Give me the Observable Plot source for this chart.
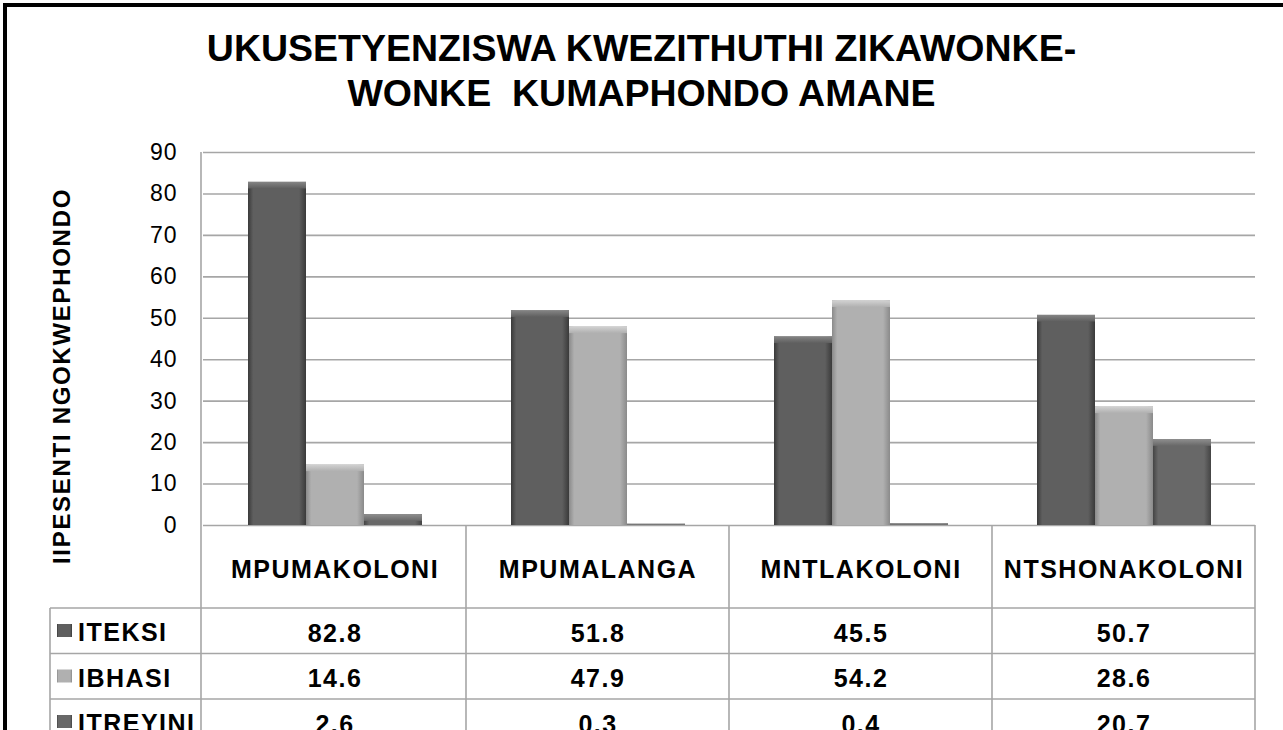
<!DOCTYPE html>
<html><head><meta charset="utf-8">
<script src="https://cdn.jsdelivr.net/npm/d3@7"></script>
<script src="https://cdn.jsdelivr.net/npm/@observablehq/plot@0.6"></script>
<style>
 html,body{margin:0;padding:0;background:#fff;overflow:hidden;}
 body{width:1283px;height:730px;position:relative;font-family:"Liberation Sans",Arial,sans-serif;}
 #frame{position:absolute;left:3px;top:3px;width:1300px;height:800px;border-left:4px solid #000;border-top:4px solid #000;box-sizing:border-box;pointer-events:none;z-index:2}
 #title{position:absolute;left:0;top:0;width:1283px;height:130px;padding-top:26px;box-sizing:border-box;text-align:center;font-weight:bold;font-size:37.5px;line-height:45px;color:#000;white-space:pre;}
 #chart{position:absolute;left:0;top:130px}
</style></head><body>
<div id="title"></div><div id="chart"></div><div id="frame"></div>
<script>
const categories = ["MPUMAKOLONI", "MPUMALANGA", "MNTLAKOLONI", "NTSHONAKOLONI"];
const seriesNames = ["ITEKSI", "IBHASI", "ITREYINI"];
const iteksi = [82.8, 51.8, 45.5, 50.7];
const ibhasi = [14.6, 47.9, 54.2, 28.6];
const itreyini = [2.6, 0.3, 0.4, 20.7];
const yTicks = [0, 10, 20, 30, 40, 50, 60, 70, 80, 90];
const titleLines = ["UKUSETYENZISWA KWEZITHUTHI ZIKAWONKE-", "WONKE  KUMAPHONDO AMANE"];
const yLabel = "IIPESENTI NGOKWEPHONDO";

const seriesValues = [iteksi, ibhasi, itreyini];
const baseColors = ["#5f5f5f", "#b0b0b0", "#686868"];
const edgeColors = ["#3a3a3a", "#8a8a8a", "#444444"];
const bevelColors = ["#858585", "#d2d2d2", "#8e8e8e"];

const rows = seriesNames.map((s, j) => categories.map((c, i) => ({category: c, series: s, value: seriesValues[j][i]})));

document.getElementById("title").textContent = titleLines.join("\n");

const W = 1283, H = 600, mL = 201, mR = 27, mT = 22, mB = 205;
const headerH = 83, rowH = 45.5, textOff = 33;
const FONT = '"Liberation Sans", Arial, sans-serif';

const marks = [Plot.gridY(yTicks, {stroke: "#a6a6a6", strokeOpacity: 1, strokeWidth: 1.6})];
rows.forEach((data, j) => {
  marks.push(Plot.barY(data, {fx: "category", x: "series", y: "value", fill: `url(#bar${j})`}));
  marks.push(Plot.barY(data, {fx: "category", x: "series", y1: "value", y2: d => Math.max(0, d.value - 1.6), fill: `url(#bev${j})`}));
});
marks.push(Plot.text(categories, {fx: d => d, text: d => d, frameAnchor: "bottom", lineAnchor: "bottom", dy: 52, fontSize: 25, fontWeight: "bold"}));
rows.forEach((data, j) => marks.push(Plot.text(data, {
  fx: "category", text: d => d.value.toFixed(1), frameAnchor: "bottom", lineAnchor: "bottom",
  dy: headerH + rowH * j + textOff, fontSize: 25, fontWeight: "bold"
})));

const chart = Plot.plot({
  width: W, height: H, marginLeft: mL, marginRight: mR, marginTop: mT, marginBottom: mB,
  style: {fontFamily: FONT, fontSize: "23px", color: "#000", background: "#fff"},
  fx: {domain: categories, padding: 0, axis: null, label: null},
  x: {domain: seriesNames, paddingInner: 0, paddingOuter: 0.735, axis: null},
  y: {domain: [0, 90], ticks: yTicks, tickSize: 0, tickPadding: 26, label: null},
  marks
});
document.getElementById("chart").appendChild(chart);

const svg = d3.select(chart);
svg.selectAll('g[aria-label="text"] text').attr("letter-spacing", "1.5px");
svg.selectAll('g[aria-label="y-axis tick label"]').attr("font-size", 23).attr("fill", "#000");
svg.selectAll('g[aria-label="y-axis tick label"] text').attr("letter-spacing", "1px");

const defs = svg.insert("defs", ":first-child");
seriesNames.forEach((s, j) => {
  const g = defs.append("linearGradient").attr("id", `bar${j}`).attr("x1", 0).attr("x2", 1).attr("y1", 0).attr("y2", 0);
  [[0, edgeColors[j]], [0.09, baseColors[j]], [0.88, baseColors[j]], [1, edgeColors[j]]]
    .forEach(([o, c]) => g.append("stop").attr("offset", o).attr("stop-color", c));
  const b = defs.append("linearGradient").attr("id", `bev${j}`).attr("x1", 0).attr("x2", 0).attr("y1", 0).attr("y2", 1);
  [[0, bevelColors[j]], [1, baseColors[j]]].forEach(([o, c]) => b.append("stop").attr("offset", o).attr("stop-color", c));
});

let fxs = null;
try { fxs = chart.scale("fx"); } catch (e) { fxs = null; }
const step = (W - mL - mR) / categories.length;
const bw = fxs && fxs.bandwidth ? fxs.bandwidth : step;
const colStart = c => (fxs && fxs.apply) ? fxs.apply(c) : mL + categories.indexOf(c) * step;
let y0 = H - mB;
try { y0 = chart.scale("y").apply(0); } catch (e) {}
const rightEdge = colStart(categories[categories.length - 1]) + bw;
const tableLeft = 50;

const lines = svg.append("g").attr("stroke", "#a6a6a6").attr("stroke-width", 1.6).attr("fill", "none");
lines.append("path").attr("d", `M${mL},${mT}V${H}`);
categories.forEach(c => {
  const x = colStart(c) + bw;
  lines.append("path").attr("d", `M${x},${y0}V${H}`);
});
seriesNames.forEach((s, j) => {
  const y = y0 + headerH + rowH * j;
  lines.append("path").attr("d", `M${tableLeft},${y}H${rightEdge}`);
});
lines.append("path").attr("d", `M${tableLeft},${y0 + headerH}V${H}`);

const legend = svg.append("g").attr("font-family", FONT).attr("font-weight", "bold").attr("font-size", 25).attr("text-anchor", "start").attr("fill", "#000");
seriesNames.forEach((s, j) => {
  const base = y0 + headerH + rowH * j + textOff;
  legend.append("rect").attr("x", 57).attr("y", base - 17).attr("width", 15).attr("height", 13).attr("fill", `url(#bar${j})`);
  legend.append("text").attr("x", 78).attr("y", base).attr("text-anchor", "start").attr("letter-spacing", "1.5px").text(s);
});

svg.append("text")
  .attr("transform", `translate(70,${mT + 224}) rotate(-90)`)
  .attr("text-anchor", "middle").attr("font-family", FONT).attr("font-weight", "bold")
  .attr("font-size", 24).attr("letter-spacing", "1.7px").attr("fill", "#000").text(yLabel);
</script></body></html>
